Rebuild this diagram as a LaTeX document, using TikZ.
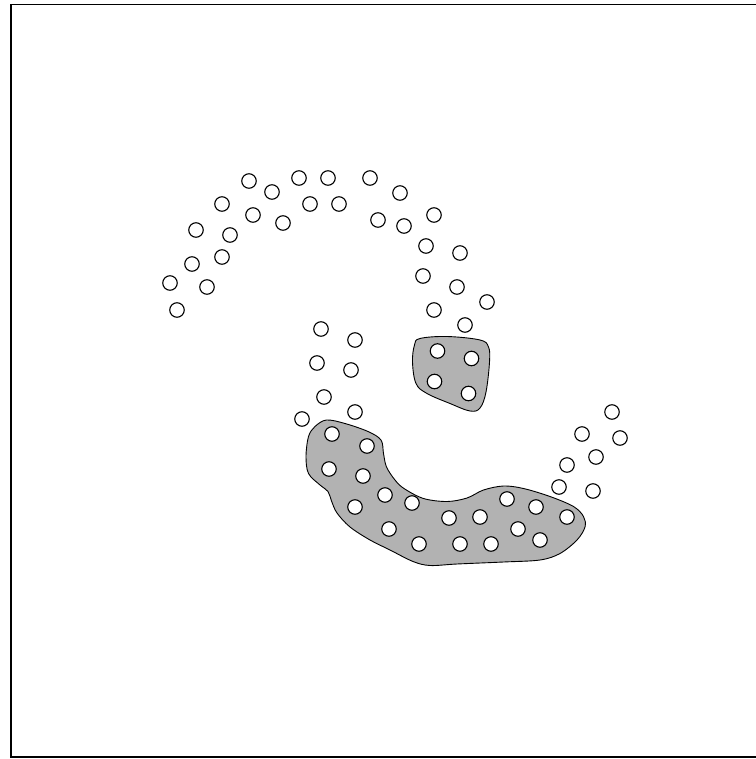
\documentclass[tikz,border=0pt]{standalone}
\begin{document}
\begin{tikzpicture}[x=1pt,y=-1pt,
  dot/.style={circle,draw=black,fill=white,line width=1.1pt,minimum size=14.5pt,inner sep=0pt},
  blob/.style={draw=black,fill=black!30,line width=0.9pt}]
\useasboundingbox (0,0) rectangle (755,759);
% frame (right side runs off the picture)
\coordinate (fr1) at (758,4.5);
\coordinate (fr2) at (11,4.5);
\coordinate (fr3) at (11,757);
\coordinate (fr4) at (758,757);
\draw[line width=1.3pt] (fr1) -- (fr2) -- (fr3) -- (fr4);
% small blob
\draw[blob] plot[smooth cycle,tension=0.6] coordinates {
 (420,338.5) (447,336.5) (480,340) (488.5,347) (489.5,362) (486,392)
 (480,408) (470,411) (450,403.5) (427,393.5) (416,383.5) (412.5,362) (414.5,345)};
% big blob
\draw[blob] plot[smooth cycle,tension=0.55] coordinates {
 (326.5,420) (345,423.5) (368,431.5) (381,440) (383.5,453.5) (386.5,467) (395,480)
 (404,488.5) (423.5,498.5) (447,501.5) (467,498) (483.5,490) (503.5,486)
 (523.5,488.5) (550,496.5) (573.5,506.5) (583.5,516.5) (585,527) (577,540)
 (560,553.5) (540,560) (503.5,562) (457,564) (430,565.5) (413,561.5)
 (390,550) (370,540) (350,527) (337,513) (331.5,501) (328,491.5)
 (320,485) (308.5,473.5) (306,456.5) (308.5,436.5) (315,426.5)};
% dots
\foreach \x/\y [count=\i] in {
 249/181, 272/192, 299/178, 328/178, 222/204, 253/215, 310/204, 339/204,
 283/223, 196/230, 230/235, 222/257, 192/264, 170/283, 207/287, 177/310,
 370/178, 400/193, 378/220, 404/226, 434/215, 426/246, 460/253, 423/276,
 457/287, 434/310, 487/302, 465/325,
 321/329, 355/340, 317/363, 351/370, 324/397, 355/412, 302/419,
 437.5/351, 471.5/358.5, 434.5/381.5, 468.5/393.5,
 332/434, 367/446, 329/469, 363/476, 385/495, 412/503, 355/507, 389/529,
 419/544, 449/518, 480/517, 460/544, 491/544, 507/499, 536/507, 518/529,
 540/540, 567/517,
 612/412, 582/434, 620/438, 596/457, 567/465, 559/487, 593/491}
 \node[dot] (d\i) at (\x,\y) {};
\end{tikzpicture}
\end{document}
